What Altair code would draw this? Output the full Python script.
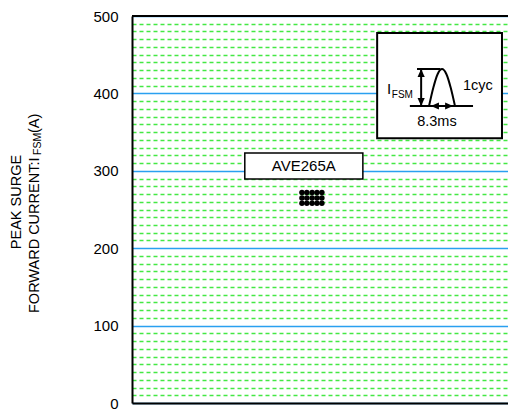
import altair as alt
import pandas as pd

# ---- data ----
sample_x = [45.2, 46.5, 47.9, 49.2, 50.5]       # horizontal positions of the samples
surge_rows = [272, 265, 258]                     # peak surge current values (A)
y_ticks = list(range(0, 501, 10))

ave_label = ["AVE265A"]
ave_box_x = [30.0, 61.4]
ave_box_y = [289.4, 323.0]
ave_text_pos = [45.7, 306.2]

# inset (waveform legend) in data units
inset_box_x = [65.2, 98.4]
inset_box_y = [342.0, 478.0]
inset_lines_x = [73.9, 76.9, 79.5, 75.8]
inset_lines_x2 = [90.7, 76.9, 85.4, 82.0]
inset_lines_y = [383.7, 383.7, 383.7, 431.5]
inset_lines_y2 = [383.7, 431.5, 383.7, 431.5]
curve_x = [79.0, 80.15, 81.3, 82.45, 83.6, 84.75, 85.9]
curve_y = [383.7, 407.6, 425.1, 431.5, 425.1, 407.6, 383.7]
head_x = [76.9, 76.9, 79.5, 85.4]
head_y = [431.5, 383.7, 383.7, 383.7]
head_shape = ["M 0 0 L 0.9 2 L -0.9 2 Z", "M 0 0 L 0.9 -2 L -0.9 -2 Z",
              "M 0 0 L 2 0.9 L 2 -0.9 Z", "M 0 0 L -2 0.9 L -2 -0.9 Z"]
inset_text = ["I", "FSM", "1cyc", "8.3ms"]
inset_text_x = [68.4, 71.9, 92.0, 81.1]
inset_text_y = [405.7, 398.5, 409.6, 363.0]
inset_text_size = [15, 10, 14.5, 14.5]

FONT = "Liberation Sans"


def X(field="x"):
    return alt.X(field, type="quantitative",
                 scale=alt.Scale(domain=[0, 100], nice=False, zero=True),
                 axis=alt.Axis(title=None, labels=False, ticks=False, grid=False,
                               domainColor="black", domainWidth=2))


def Y(field="y"):
    return alt.Y(field, type="quantitative",
                 scale=alt.Scale(domain=[0, 500], nice=False),
                 axis=alt.Axis(title=None, values=y_ticks, ticks=False,
                               labelExpr="datum.value % 100 === 0 ? datum.label : ''",
                               labelFontSize=15, labelColor="black", labelFont=FONT,
                               labelPadding=14, domainColor="black", domainWidth=2,
                               grid=True,
                               gridWidth={"condition": {"test": "datum.value % 100 === 0",
                                                        "value": 1.3},
                                          "value": 1.3},
                               gridColor={"condition": {"test": "datum.value % 100 === 0",
                                                        "value": "#2aa0f0"},
                                          "value": "#44e844"},
                               gridDash={"condition": {"test": "datum.value % 100 === 0",
                                                       "value": []},
                                         "value": [4, 3]}))


points = pd.DataFrame([{"x": x, "y": y} for y in surge_rows for x in sample_x])
dots = alt.Chart(points).mark_circle(size=30, color="black", opacity=1).encode(x=X(), y=Y())

ave_box = alt.Chart(pd.DataFrame({"x": [ave_box_x[0]], "x2": [ave_box_x[1]],
                                  "y": [ave_box_y[0]], "y2": [ave_box_y[1]]})).mark_rect(
    fill="white", stroke="black", strokeWidth=1.5).encode(
    x=X(), x2="x2", y=Y(), y2="y2")
ave_txt = alt.Chart(pd.DataFrame({"x": [ave_text_pos[0]], "y": [ave_text_pos[1]],
                                  "t": ave_label})).mark_text(
    font=FONT, fontSize=15, color="black", align="center", baseline="middle").encode(
    x=X(), y=Y(), text="t:N")

inset_box = alt.Chart(pd.DataFrame({"x": [inset_box_x[0]], "x2": [inset_box_x[1]],
                                    "y": [inset_box_y[0]], "y2": [inset_box_y[1]]})).mark_rect(
    fill="white", stroke="black", strokeWidth=2).encode(
    x=X(), x2="x2", y=Y(), y2="y2")
inset_lines = alt.Chart(pd.DataFrame({"x": inset_lines_x, "x2": inset_lines_x2,
                                      "y": inset_lines_y, "y2": inset_lines_y2})).mark_rule(
    color="black", strokeWidth=2).encode(x=X(), x2="x2", y=Y(), y2="y2")
curve = alt.Chart(pd.DataFrame({"x": curve_x, "y": curve_y, "o": list(range(len(curve_x)))})).mark_line(
    color="black", strokeWidth=2, interpolate="cardinal").encode(x=X(), y=Y(), order="o:Q")
heads = alt.Chart(pd.DataFrame({"x": head_x, "y": head_y, "s": head_shape})).mark_point(
    filled=True, color="black", opacity=1, size=64).encode(
    x=X(), y=Y(), shape=alt.Shape("s:N", scale=None))
inset_txt = alt.Chart(pd.DataFrame({"x": inset_text_x, "y": inset_text_y, "t": inset_text,
                                    "fs": inset_text_size})).mark_text(
    font=FONT, color="black", align="center", baseline="middle").encode(
    x=X(), y=Y(), text="t:N", size=alt.Size("fs:Q", scale=None))

top_border = alt.Chart(pd.DataFrame({"y": [500]})).mark_rule(
    color="black", strokeWidth=2).encode(y=Y(), x=alt.value(0), x2=alt.value(376))

title1 = alt.Chart(pd.DataFrame({"t": ["PEAK SURGE"]})).mark_text(
    font=FONT, fontSize=14.5, color="black", angle=270, align="center", baseline="middle").encode(
    x=alt.value(-115), y=alt.value(186), text="t:N")
title2a = alt.Chart(pd.DataFrame({"t": ["FORWARD CURRENT:I"]})).mark_text(
    font=FONT, fontSize=14.5, color="black", angle=270, align="left", baseline="middle").encode(
    x=alt.value(-97), y=alt.value(297), text="t:N")
title2b = alt.Chart(pd.DataFrame({"t": ["FSM"]})).mark_text(
    font=FONT, fontSize=10.5, color="black", angle=270, align="left", baseline="middle").encode(
    x=alt.value(-94), y=alt.value(139), text="t:N")
title2c = alt.Chart(pd.DataFrame({"t": ["(A)"]})).mark_text(
    font=FONT, fontSize=14.5, color="black", angle=270, align="left", baseline="middle").encode(
    x=alt.value(-97), y=alt.value(117), text="t:N")

chart = alt.layer(
    dots, ave_box, ave_txt, inset_box, inset_lines, curve, heads, inset_txt, top_border,
    title1, title2a, title2b, title2c
).properties(
    width=376, height=387,
    autosize=alt.AutoSizeParams(type="none"),
    padding={"left": 124, "top": 8, "right": 0, "bottom": 12},
).configure_view(stroke=None)

chart.save("out.html", embed_options={"renderer": "svg", "actions": False})
